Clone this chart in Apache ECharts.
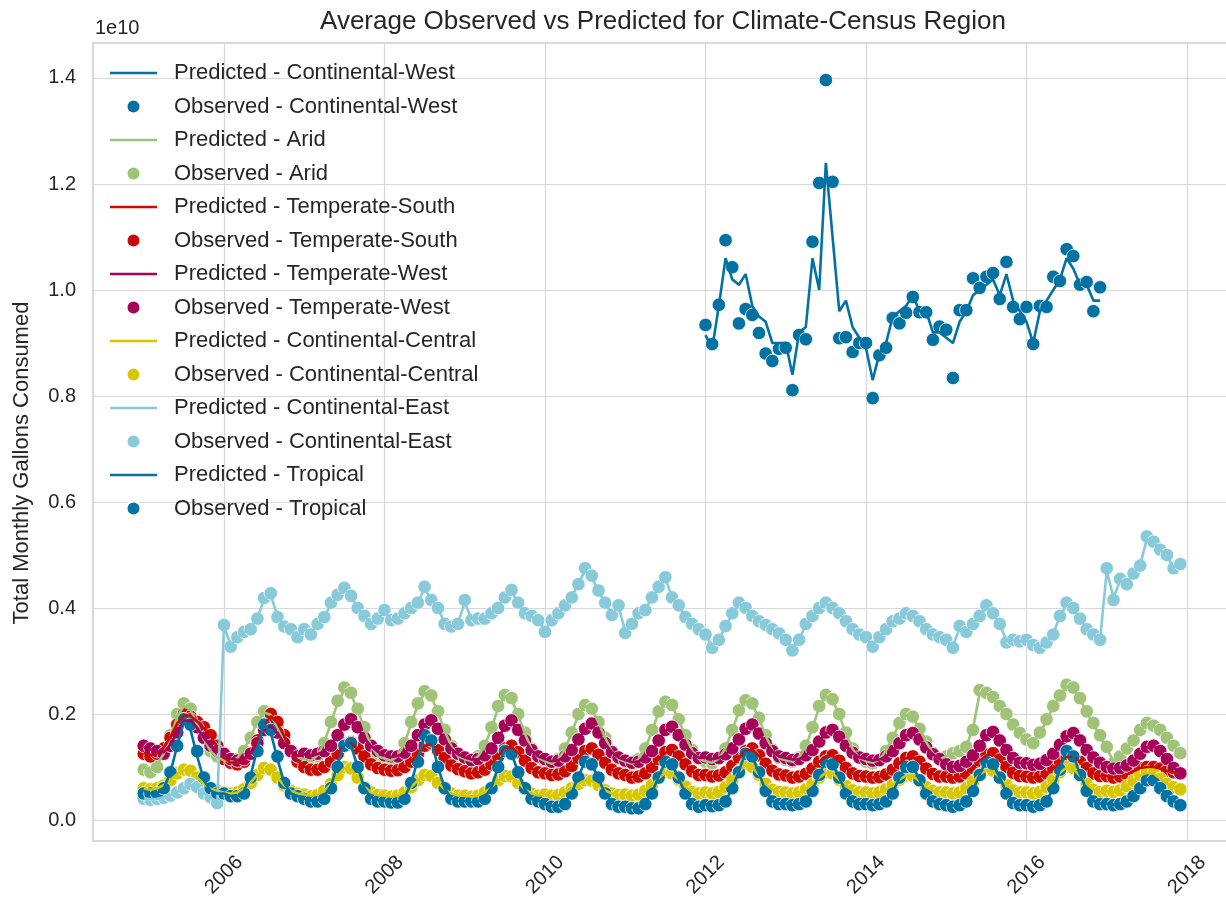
<!DOCTYPE html>
<html>
<head>
<meta charset="utf-8">
<script src="https://cdn.jsdelivr.net/npm/echarts@6/dist/echarts.min.js"></script>
<style>
  html, body { margin: 0; padding: 0; background: #ffffff; }
  #chart { width: 1226px; height: 909px; }
</style>
</head>
<body>
<div id="chart"></div>
<script>
// Monthly gallons per climate-census region, in units of 1e10 gallons.
const regions = ['Continental-West', 'Arid', 'Temperate-South', 'Temperate-West',
                 'Continental-Central', 'Continental-East', 'Tropical'];
const regionColors = ['#0272a2', '#9fc377', '#ca0b03', '#a50258', '#d7c703', '#88cada', '#0272a2'];
const xTickYears = [2006, 2008, 2010, 2012, 2014, 2016, 2018];
const yTickValues = [0.0, 0.2, 0.4, 0.6, 0.8, 1.0, 1.2, 1.4];

// Continental-West: Jan 2012 .. Dec 2016
const cwStartYear = 2012;
const cwObserved = [
  0.934,0.898,0.972,1.094,1.043,0.937,0.964,0.953,0.919,0.880,0.866,0.889,
  0.891,0.811,0.915,0.907,1.091,1.202,1.396,1.204,0.909,0.911,0.883,0.900,
  0.900,0.796,0.877,0.891,0.947,0.937,0.957,0.987,0.958,0.958,0.906,0.931,
  0.925,0.834,0.962,0.962,1.022,1.004,1.025,1.032,0.983,1.053,0.968,0.945,
  0.968,0.898,0.970,0.968,1.025,1.017,1.077,1.064,1.010,1.015,0.960,1.005
];
const cwPredicted = [
  0.915,0.890,0.970,1.060,1.020,1.010,1.030,0.970,0.950,0.940,0.900,0.900,
  0.900,0.840,0.920,0.930,1.060,1.000,1.240,1.100,0.960,0.980,0.930,0.910,
  0.890,0.830,0.880,0.900,0.950,0.960,0.970,0.990,0.960,0.960,0.920,0.920,
  0.910,0.900,0.940,0.960,0.990,1.000,1.010,1.020,0.990,1.030,0.980,0.960,
  0.940,0.900,0.960,0.980,1.000,1.020,1.060,1.040,1.010,1.010,0.980,0.980
];

// Remaining regions: Jan 2005 .. Dec 2017, one row per year
const fullStartYear = 2005;
const aridObserved = [
  0.095,0.090,0.100,0.125,0.160,0.200,0.220,0.210,0.180,0.155,0.130,0.120,
  0.115,0.110,0.115,0.130,0.155,0.185,0.205,0.200,0.175,0.150,0.130,0.120,
  0.115,0.110,0.120,0.145,0.185,0.225,0.250,0.240,0.210,0.175,0.140,0.120,
  0.115,0.110,0.120,0.145,0.185,0.220,0.243,0.235,0.205,0.170,0.140,0.120,
  0.115,0.110,0.120,0.140,0.175,0.215,0.236,0.230,0.200,0.165,0.135,0.118,
  0.110,0.105,0.115,0.135,0.165,0.200,0.217,0.210,0.185,0.155,0.130,0.115,
  0.110,0.105,0.115,0.135,0.170,0.205,0.223,0.217,0.190,0.160,0.132,0.115,
  0.110,0.107,0.115,0.135,0.170,0.207,0.226,0.220,0.193,0.160,0.133,0.117,
  0.113,0.110,0.118,0.140,0.175,0.215,0.236,0.228,0.200,0.165,0.135,0.118,
  0.110,0.107,0.113,0.130,0.155,0.183,0.200,0.195,0.172,0.148,0.127,0.113,
  0.120,0.126,0.130,0.138,0.170,0.245,0.240,0.232,0.215,0.200,0.180,0.164,
  0.152,0.145,0.165,0.190,0.215,0.235,0.255,0.250,0.230,0.205,0.183,0.160,
  0.138,0.107,0.120,0.135,0.150,0.170,0.183,0.178,0.170,0.155,0.140,0.126
];
const aridPredicted = [
  0.100,0.095,0.105,0.125,0.158,0.195,0.215,0.208,0.180,0.152,0.130,0.118,
  0.113,0.110,0.117,0.133,0.158,0.185,0.203,0.198,0.175,0.150,0.130,0.118,
  0.115,0.112,0.122,0.147,0.183,0.222,0.245,0.237,0.207,0.172,0.140,0.120,
  0.116,0.112,0.121,0.145,0.182,0.218,0.240,0.232,0.203,0.168,0.139,0.120,
  0.115,0.111,0.120,0.140,0.173,0.212,0.233,0.227,0.198,0.163,0.134,0.117,
  0.111,0.106,0.115,0.134,0.165,0.198,0.215,0.209,0.184,0.155,0.130,0.115,
  0.110,0.106,0.115,0.135,0.168,0.203,0.221,0.215,0.189,0.158,0.131,0.115,
  0.111,0.108,0.116,0.136,0.169,0.205,0.224,0.218,0.191,0.159,0.132,0.116,
  0.113,0.110,0.118,0.139,0.174,0.213,0.233,0.226,0.198,0.163,0.134,0.117,
  0.111,0.108,0.114,0.131,0.156,0.182,0.198,0.193,0.171,0.147,0.126,0.114,
  0.121,0.125,0.130,0.140,0.172,0.240,0.238,0.230,0.213,0.198,0.178,0.162,
  0.150,0.146,0.164,0.188,0.213,0.233,0.252,0.247,0.228,0.203,0.181,0.158,
  0.136,0.110,0.121,0.135,0.151,0.169,0.181,0.177,0.168,0.154,0.139,0.127
];
const tempSouthObserved = [
  0.125,0.120,0.125,0.135,0.155,0.180,0.200,0.195,0.185,0.175,0.160,0.140,
  0.115,0.108,0.105,0.110,0.125,0.150,0.180,0.200,0.185,0.160,0.130,0.110,
  0.100,0.095,0.095,0.100,0.110,0.125,0.140,0.147,0.135,0.120,0.105,0.098,
  0.095,0.093,0.094,0.100,0.110,0.125,0.140,0.145,0.132,0.117,0.103,0.096,
  0.092,0.088,0.090,0.095,0.105,0.120,0.135,0.140,0.128,0.112,0.098,0.090,
  0.088,0.085,0.086,0.092,0.102,0.117,0.130,0.135,0.123,0.108,0.095,0.088,
  0.085,0.080,0.082,0.088,0.100,0.115,0.128,0.132,0.120,0.105,0.092,0.085,
  0.085,0.082,0.084,0.090,0.102,0.118,0.130,0.135,0.122,0.106,0.093,0.086,
  0.084,0.080,0.082,0.087,0.097,0.110,0.120,0.122,0.112,0.098,0.088,0.083,
  0.082,0.080,0.081,0.086,0.095,0.107,0.117,0.120,0.110,0.097,0.087,0.082,
  0.082,0.080,0.082,0.088,0.098,0.112,0.123,0.126,0.114,0.100,0.089,0.083,
  0.082,0.080,0.082,0.088,0.097,0.110,0.120,0.120,0.110,0.098,0.088,0.083,
  0.083,0.080,0.082,0.086,0.092,0.098,0.100,0.100,0.097,0.093,0.090,0.088
];
const tempSouthPredicted = [
  0.127,0.122,0.126,0.137,0.157,0.182,0.198,0.196,0.186,0.173,0.158,0.138,
  0.117,0.109,0.107,0.112,0.127,0.152,0.178,0.196,0.183,0.158,0.130,0.112,
  0.101,0.096,0.096,0.101,0.111,0.126,0.141,0.145,0.134,0.119,0.105,0.098,
  0.096,0.093,0.095,0.100,0.111,0.126,0.140,0.143,0.131,0.116,0.103,0.096,
  0.092,0.089,0.090,0.096,0.106,0.121,0.135,0.138,0.127,0.111,0.098,0.090,
  0.088,0.085,0.087,0.092,0.103,0.117,0.130,0.133,0.122,0.107,0.095,0.088,
  0.085,0.081,0.083,0.089,0.100,0.115,0.127,0.130,0.119,0.104,0.092,0.085,
  0.085,0.082,0.084,0.090,0.102,0.118,0.130,0.133,0.121,0.106,0.093,0.086,
  0.084,0.081,0.082,0.087,0.097,0.110,0.120,0.121,0.111,0.098,0.088,0.083,
  0.082,0.080,0.082,0.086,0.095,0.107,0.117,0.119,0.109,0.097,0.087,0.082,
  0.082,0.080,0.082,0.088,0.098,0.112,0.122,0.125,0.113,0.100,0.089,0.083,
  0.082,0.080,0.082,0.088,0.097,0.110,0.119,0.120,0.110,0.098,0.088,0.083,
  0.083,0.081,0.082,0.086,0.092,0.098,0.100,0.100,0.097,0.093,0.090,0.088
];
const tempWestObserved = [
  0.140,0.135,0.130,0.125,0.140,0.165,0.190,0.190,0.175,0.155,0.140,0.130,
  0.125,0.115,0.112,0.115,0.125,0.145,0.170,0.180,0.165,0.145,0.130,0.120,
  0.125,0.122,0.125,0.130,0.140,0.160,0.180,0.190,0.175,0.155,0.140,0.130,
  0.122,0.120,0.120,0.127,0.140,0.160,0.180,0.188,0.172,0.152,0.135,0.125,
  0.118,0.113,0.115,0.122,0.135,0.155,0.178,0.188,0.170,0.150,0.132,0.120,
  0.115,0.110,0.112,0.120,0.132,0.152,0.172,0.182,0.165,0.145,0.128,0.118,
  0.112,0.108,0.110,0.118,0.130,0.150,0.170,0.176,0.160,0.142,0.126,0.117,
  0.118,0.115,0.117,0.124,0.135,0.152,0.172,0.180,0.163,0.145,0.130,0.120,
  0.117,0.113,0.115,0.122,0.132,0.148,0.165,0.170,0.157,0.140,0.127,0.118,
  0.115,0.112,0.113,0.120,0.130,0.145,0.160,0.164,0.152,0.137,0.124,0.115,
  0.105,0.100,0.102,0.110,0.122,0.140,0.160,0.166,0.150,0.132,0.117,0.108,
  0.107,0.104,0.106,0.113,0.125,0.142,0.158,0.164,0.150,0.132,0.118,0.108,
  0.100,0.097,0.098,0.103,0.112,0.125,0.138,0.140,0.130,0.115,0.098,0.088
];
const tempWestPredicted = [
  0.138,0.133,0.130,0.128,0.142,0.166,0.187,0.188,0.174,0.155,0.139,0.129,
  0.124,0.116,0.113,0.116,0.126,0.146,0.169,0.178,0.164,0.145,0.130,0.121,
  0.124,0.122,0.124,0.130,0.141,0.160,0.179,0.187,0.173,0.154,0.139,0.129,
  0.122,0.119,0.121,0.127,0.139,0.159,0.179,0.186,0.171,0.151,0.134,0.124,
  0.118,0.114,0.115,0.122,0.135,0.155,0.176,0.185,0.169,0.149,0.131,0.120,
  0.115,0.111,0.113,0.120,0.132,0.151,0.171,0.180,0.164,0.144,0.128,0.118,
  0.113,0.109,0.111,0.118,0.130,0.149,0.168,0.175,0.160,0.142,0.126,0.117,
  0.118,0.115,0.117,0.124,0.135,0.152,0.171,0.178,0.163,0.145,0.130,0.120,
  0.117,0.114,0.115,0.122,0.132,0.148,0.164,0.169,0.157,0.140,0.127,0.118,
  0.115,0.112,0.114,0.120,0.130,0.145,0.159,0.163,0.151,0.137,0.124,0.115,
  0.106,0.101,0.103,0.110,0.122,0.140,0.159,0.164,0.150,0.132,0.117,0.108,
  0.107,0.104,0.106,0.113,0.125,0.142,0.157,0.163,0.150,0.132,0.118,0.108,
  0.101,0.098,0.099,0.104,0.112,0.125,0.137,0.139,0.129,0.114,0.099,0.089
];
const contCentralObserved = [
  0.060,0.058,0.060,0.065,0.075,0.088,0.095,0.093,0.080,0.068,0.060,0.055,
  0.052,0.050,0.052,0.058,0.070,0.085,0.098,0.095,0.080,0.065,0.055,0.050,
  0.048,0.045,0.047,0.055,0.068,0.085,0.100,0.097,0.080,0.062,0.052,0.047,
  0.046,0.044,0.046,0.052,0.062,0.075,0.085,0.083,0.070,0.058,0.050,0.046,
  0.046,0.044,0.046,0.052,0.062,0.075,0.083,0.082,0.070,0.058,0.050,0.046,
  0.048,0.046,0.047,0.052,0.060,0.068,0.075,0.074,0.066,0.056,0.050,0.047,
  0.048,0.046,0.048,0.055,0.066,0.080,0.090,0.088,0.076,0.063,0.053,0.050,
  0.052,0.050,0.053,0.062,0.075,0.092,0.105,0.100,0.085,0.068,0.057,0.053,
  0.052,0.050,0.052,0.058,0.068,0.080,0.090,0.088,0.076,0.064,0.056,0.052,
  0.052,0.050,0.052,0.058,0.066,0.076,0.084,0.083,0.073,0.062,0.055,0.052,
  0.052,0.050,0.052,0.060,0.072,0.086,0.095,0.093,0.080,0.066,0.056,0.052,
  0.052,0.050,0.053,0.062,0.075,0.090,0.100,0.098,0.083,0.068,0.057,0.053,
  0.055,0.053,0.056,0.064,0.074,0.085,0.090,0.088,0.078,0.068,0.062,0.058
];
const contCentralPredicted = [
  0.059,0.057,0.060,0.066,0.076,0.087,0.094,0.092,0.080,0.068,0.059,0.055,
  0.052,0.050,0.052,0.059,0.071,0.085,0.096,0.094,0.080,0.065,0.055,0.050,
  0.048,0.046,0.048,0.055,0.068,0.084,0.098,0.096,0.080,0.063,0.052,0.047,
  0.046,0.044,0.046,0.052,0.062,0.075,0.084,0.082,0.070,0.058,0.050,0.046,
  0.046,0.044,0.046,0.052,0.062,0.074,0.082,0.081,0.070,0.058,0.050,0.046,
  0.048,0.046,0.047,0.052,0.060,0.068,0.075,0.074,0.066,0.056,0.050,0.047,
  0.048,0.046,0.048,0.055,0.066,0.079,0.089,0.087,0.076,0.063,0.053,0.050,
  0.052,0.050,0.053,0.062,0.075,0.091,0.103,0.099,0.085,0.068,0.057,0.053,
  0.052,0.050,0.052,0.058,0.068,0.080,0.089,0.088,0.076,0.064,0.056,0.052,
  0.052,0.050,0.052,0.058,0.066,0.076,0.084,0.083,0.073,0.062,0.055,0.052,
  0.052,0.050,0.052,0.060,0.072,0.086,0.094,0.092,0.080,0.066,0.056,0.052,
  0.052,0.050,0.053,0.062,0.075,0.089,0.099,0.097,0.083,0.068,0.057,0.053,
  0.055,0.053,0.056,0.064,0.074,0.084,0.089,0.088,0.078,0.068,0.062,0.058
];
const contEastObserved = [
  0.040,0.038,0.040,0.042,0.046,0.052,0.060,0.068,0.062,0.050,0.043,0.032,
  0.368,0.327,0.345,0.355,0.360,0.380,0.419,0.428,0.383,0.365,0.360,0.345,
  0.360,0.350,0.370,0.383,0.410,0.425,0.438,0.423,0.400,0.385,0.370,0.380,
  0.396,0.377,0.380,0.390,0.400,0.410,0.440,0.415,0.400,0.370,0.365,0.370,
  0.415,0.377,0.380,0.380,0.390,0.400,0.420,0.434,0.410,0.390,0.385,0.377,
  0.355,0.377,0.390,0.405,0.420,0.445,0.475,0.461,0.433,0.410,0.387,0.405,
  0.353,0.370,0.390,0.396,0.420,0.440,0.458,0.420,0.405,0.383,0.370,0.360,
  0.350,0.325,0.340,0.366,0.390,0.410,0.400,0.385,0.375,0.368,0.360,0.352,
  0.340,0.320,0.340,0.370,0.385,0.400,0.410,0.400,0.390,0.375,0.360,0.350,
  0.345,0.327,0.345,0.360,0.375,0.380,0.390,0.385,0.375,0.360,0.350,0.345,
  0.340,0.325,0.366,0.355,0.370,0.385,0.405,0.390,0.370,0.335,0.340,0.337,
  0.340,0.330,0.325,0.335,0.350,0.385,0.410,0.400,0.380,0.360,0.350,0.340,
  0.475,0.415,0.455,0.445,0.465,0.480,0.535,0.525,0.510,0.500,0.475,0.483
];
const contEastPredicted = [
  0.041,0.039,0.040,0.043,0.047,0.053,0.060,0.066,0.060,0.050,0.043,0.034,
  0.366,0.330,0.343,0.354,0.362,0.382,0.416,0.424,0.385,0.366,0.358,0.347,
  0.360,0.352,0.369,0.384,0.407,0.424,0.435,0.422,0.401,0.385,0.372,0.380,
  0.393,0.378,0.381,0.390,0.400,0.412,0.436,0.416,0.399,0.372,0.366,0.372,
  0.410,0.380,0.380,0.382,0.391,0.402,0.421,0.431,0.409,0.390,0.384,0.377,
  0.358,0.377,0.390,0.404,0.421,0.446,0.471,0.458,0.432,0.409,0.389,0.402,
  0.356,0.371,0.389,0.398,0.419,0.439,0.455,0.421,0.404,0.384,0.370,0.360,
  0.349,0.328,0.341,0.365,0.389,0.408,0.400,0.386,0.376,0.367,0.360,0.352,
  0.340,0.323,0.341,0.368,0.385,0.399,0.408,0.400,0.389,0.375,0.360,0.350,
  0.344,0.329,0.345,0.360,0.374,0.381,0.389,0.385,0.374,0.360,0.350,0.345,
  0.340,0.328,0.362,0.356,0.370,0.386,0.402,0.390,0.370,0.338,0.340,0.337,
  0.339,0.331,0.327,0.336,0.352,0.384,0.407,0.399,0.380,0.360,0.350,0.341,
  0.470,0.420,0.452,0.447,0.465,0.482,0.530,0.523,0.509,0.498,0.477,0.481
];
const tropicalObserved = [
  0.050,0.050,0.050,0.060,0.090,0.140,0.190,0.180,0.130,0.080,0.060,0.050,
  0.050,0.045,0.045,0.050,0.080,0.130,0.180,0.170,0.120,0.070,0.050,0.045,
  0.040,0.035,0.035,0.040,0.060,0.100,0.140,0.145,0.100,0.060,0.040,0.035,
  0.035,0.033,0.033,0.040,0.070,0.110,0.160,0.150,0.100,0.060,0.040,0.035,
  0.035,0.035,0.035,0.040,0.060,0.100,0.130,0.125,0.090,0.060,0.040,0.035,
  0.030,0.025,0.025,0.030,0.050,0.080,0.110,0.105,0.080,0.050,0.030,0.025,
  0.025,0.022,0.022,0.030,0.050,0.080,0.110,0.105,0.080,0.050,0.030,0.025,
  0.028,0.026,0.028,0.035,0.060,0.090,0.125,0.120,0.090,0.055,0.035,0.030,
  0.030,0.028,0.030,0.035,0.055,0.085,0.110,0.105,0.080,0.050,0.035,0.030,
  0.030,0.028,0.030,0.035,0.050,0.080,0.100,0.100,0.075,0.050,0.035,0.030,
  0.028,0.025,0.028,0.035,0.055,0.085,0.110,0.105,0.080,0.050,0.032,0.028,
  0.028,0.025,0.028,0.035,0.060,0.095,0.130,0.120,0.085,0.055,0.035,0.030,
  0.030,0.028,0.030,0.035,0.045,0.060,0.075,0.075,0.060,0.045,0.035,0.028
];
const tropicalPredicted = [
  0.055,0.050,0.050,0.060,0.090,0.140,0.185,0.170,0.120,0.075,0.055,0.050,
  0.050,0.045,0.045,0.055,0.085,0.135,0.180,0.165,0.115,0.070,0.050,0.045,
  0.040,0.037,0.037,0.045,0.065,0.105,0.145,0.140,0.100,0.060,0.042,0.038,
  0.037,0.034,0.034,0.042,0.070,0.115,0.160,0.150,0.100,0.060,0.040,0.036,
  0.036,0.034,0.035,0.042,0.062,0.100,0.132,0.125,0.090,0.058,0.040,0.036,
  0.030,0.027,0.027,0.033,0.052,0.082,0.112,0.105,0.078,0.050,0.033,0.028,
  0.027,0.024,0.025,0.032,0.052,0.082,0.110,0.105,0.078,0.050,0.032,0.027,
  0.030,0.027,0.029,0.036,0.060,0.092,0.128,0.120,0.088,0.055,0.036,0.031,
  0.031,0.029,0.031,0.037,0.056,0.086,0.113,0.106,0.080,0.052,0.036,0.031,
  0.031,0.029,0.031,0.036,0.052,0.080,0.104,0.100,0.076,0.050,0.036,0.031,
  0.030,0.027,0.029,0.036,0.056,0.086,0.112,0.106,0.080,0.052,0.034,0.029,
  0.029,0.027,0.029,0.036,0.060,0.096,0.132,0.122,0.086,0.056,0.036,0.031,
  0.031,0.029,0.031,0.036,0.047,0.062,0.077,0.076,0.062,0.046,0.036,0.030
];

const regionData = [
  { start: cwStartYear,   predicted: cwPredicted,          observed: cwObserved },
  { start: fullStartYear, predicted: aridPredicted,        observed: aridObserved },
  { start: fullStartYear, predicted: tempSouthPredicted,   observed: tempSouthObserved },
  { start: fullStartYear, predicted: tempWestPredicted,    observed: tempWestObserved },
  { start: fullStartYear, predicted: contCentralPredicted, observed: contCentralObserved },
  { start: fullStartYear, predicted: contEastPredicted,    observed: contEastObserved },
  { start: fullStartYear, predicted: tropicalPredicted,    observed: tropicalObserved }
];

// month index -> decimal year position on the time axis
function monthly(values, startYear) {
  return values.map((v, i) => [startYear + i / 12, v]);
}

const FONT = '"Liberation Sans", Arial, sans-serif';
const TEXT = '#262626';
// thin horizontal bar used as the legend handle for the prediction lines
const LINE_ICON = 'path://M0,0 L47,0 L47,2.6 L0,2.6 Z';

const series = [];
const legendItems = [];
regions.forEach((name, k) => {
  const d = regionData[k];
  const color = regionColors[k];
  legendItems.push({ name: 'Predicted - ' + name, icon: LINE_ICON });
  legendItems.push({ name: 'Observed - ' + name, icon: 'circle' });
  series.push({
    name: 'Predicted - ' + name,
    type: 'line',
    data: monthly(d.predicted, d.start),
    symbol: 'none',
    showSymbol: false,
    z: 3,
    lineStyle: { color: color, width: 2.6 },
    itemStyle: { color: color },
    emphasis: { disabled: true },
    silent: true
  });
  series.push({
    name: 'Observed - ' + name,
    type: 'scatter',
    data: monthly(d.observed, d.start),
    symbol: 'circle',
    symbolSize: 13.5,
    z: 2,
    itemStyle: { color: color, borderColor: '#ffffff', borderWidth: 0.8, opacity: 1 },
    emphasis: { disabled: true },
    silent: true
  });
});

const chart = echarts.init(document.getElementById('chart'), null, { renderer: 'canvas' });
chart.setOption({
  animation: false,
  backgroundColor: '#ffffff',
  grid: {
    left: 93, top: 43, width: 1140, bottom: 68,
    outerBoundsMode: 'none',
    containLabel: false,
    show: true, borderColor: '#cccccc', borderWidth: 1.5, backgroundColor: '#ffffff'
  },
  xAxis: {
    type: 'value',
    min: 2004.368,
    max: 2018.573,
    axisLine: { show: false },
    axisTick: { show: false, customValues: xTickYears },
    axisLabel: {
      customValues: xTickYears,
      formatter: v => String(Math.round(v)),
      rotate: 45,
      align: 'center',
      verticalAlign: 'middle',
      margin: 34,
      fontSize: 20,
      color: TEXT,
      fontFamily: FONT
    },
    splitLine: { show: true, lineStyle: { color: '#d8d8d8', width: 1.2 } }
  },
  yAxis: {
    type: 'value',
    min: -0.0396,
    max: 1.466,
    axisLine: { show: false },
    axisTick: { show: false, customValues: yTickValues },
    axisLabel: {
      customValues: yTickValues,
      formatter: v => v.toFixed(1),
      margin: 17,
      fontSize: 20,
      color: TEXT,
      fontFamily: FONT
    },
    splitLine: { show: true, lineStyle: { color: '#d8d8d8', width: 1.2 } }
  },
  legend: {
    data: legendItems,
    orient: 'vertical',
    left: 110,
    top: 62,
    padding: 0,
    itemWidth: 47,
    itemHeight: 14,
    itemGap: 11.5,
    selectedMode: false,
    textStyle: {
      fontSize: 22,
      lineHeight: 22,
      color: TEXT,
      fontFamily: FONT,
      padding: [0, 0, 0, 12]
    }
  },
  graphic: [
    {
      type: 'text',
      x: 663, y: 22,
      style: {
        text: 'Average Observed vs Predicted for Climate-Census Region',
        x: 0, y: 0, align: 'center', verticalAlign: 'middle',
        fontSize: 26, fontFamily: FONT, fill: TEXT
      }
    },
    {
      type: 'text',
      x: 95, y: 28,
      style: {
        text: '1e10', x: 0, y: 0, align: 'left', verticalAlign: 'middle',
        fontSize: 20, fontFamily: FONT, fill: TEXT
      }
    },
    {
      type: 'text',
      x: 22, y: 463, rotation: Math.PI / 2,
      style: {
        text: 'Total Monthly Gallons Consumed', x: 0, y: 0,
        align: 'center', verticalAlign: 'middle',
        fontSize: 22, fontFamily: FONT, fill: TEXT
      }
    }
  ],
  series: series
});
</script>
</body>
</html>
